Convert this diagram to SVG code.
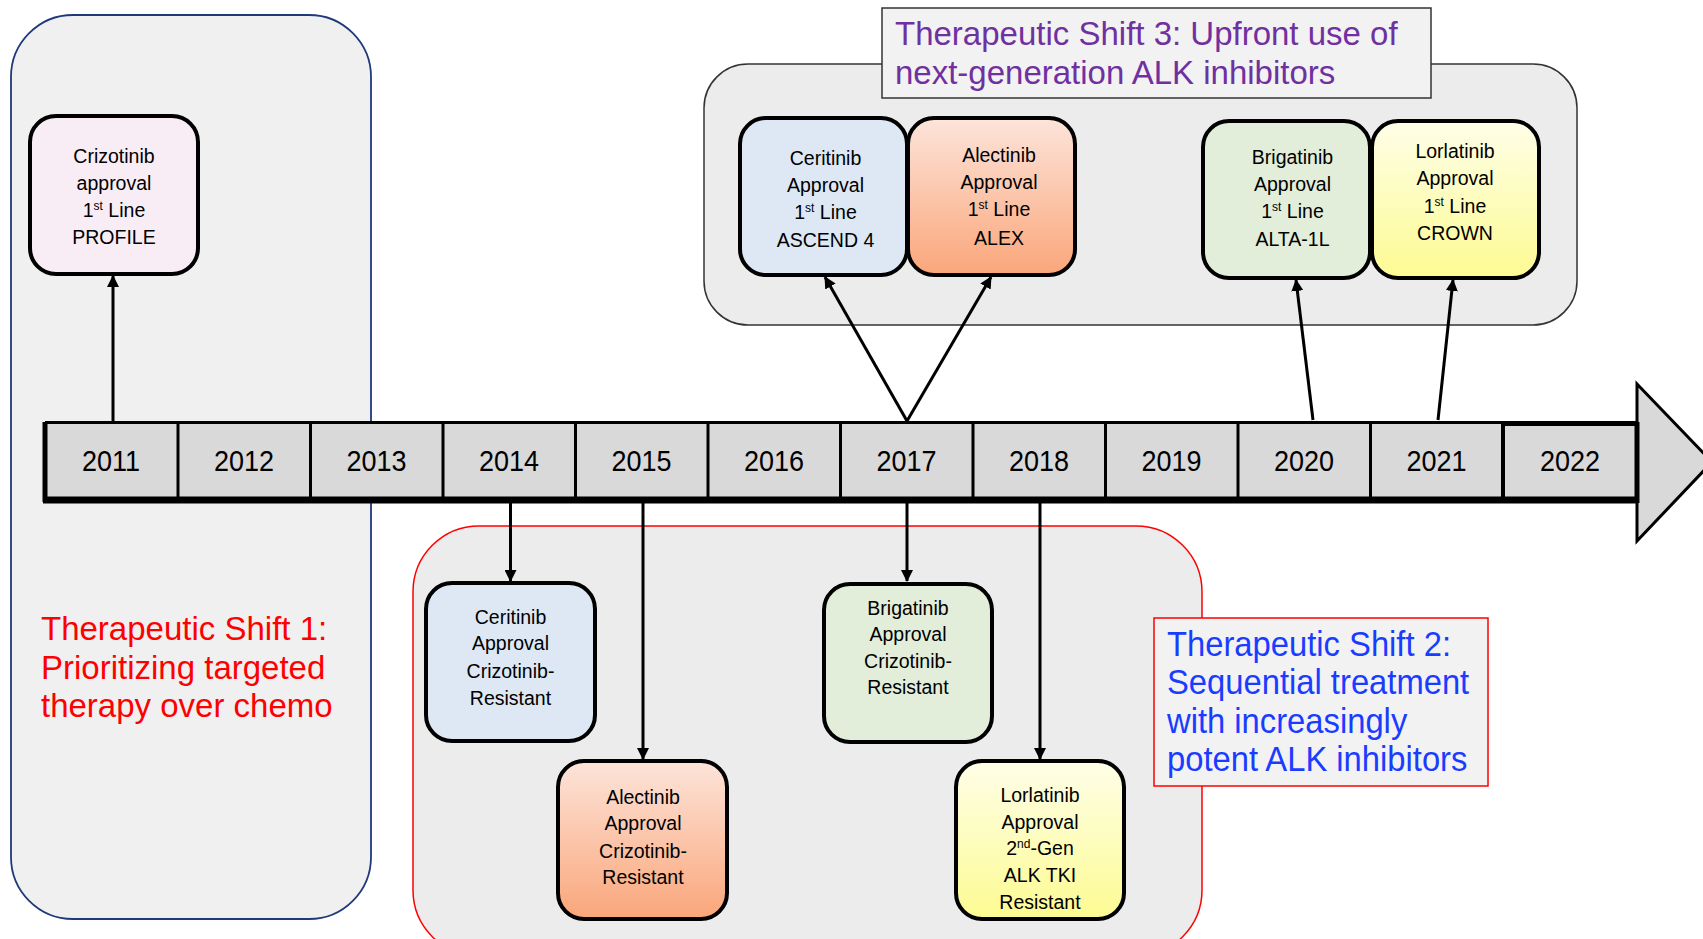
<svg xmlns="http://www.w3.org/2000/svg" width="1703" height="939" viewBox="0 0 1703 939">
<style>
.node{stroke:#000;stroke-width:4}
.nt{font-family:"Liberation Sans",Arial,sans-serif;font-size:19.5px;fill:#000;text-anchor:middle}
.sup{font-size:12px}
.yr{font-family:"Liberation Sans",Arial,sans-serif;font-size:30px;fill:#000;text-anchor:middle}
.title{font-family:"Liberation Sans",Arial,sans-serif;font-size:33px}
.conn{stroke:#000;stroke-width:3;fill:none;marker-end:url(#ah)}
</style>
<defs>
<marker id="ah" markerUnits="userSpaceOnUse" markerWidth="12" markerHeight="12" refX="11" refY="6" orient="auto">
<path d="M0,0 L12,6 L0,12 z" fill="#000"/>
</marker>
<linearGradient id="gOrange" x1="0" y1="0" x2="0" y2="1">
<stop offset="0" stop-color="#fde4da"/>
<stop offset="1" stop-color="#faa67a"/>
</linearGradient>
<linearGradient id="gYellow" x1="0" y1="0" x2="0" y2="1">
<stop offset="0" stop-color="#fefee8"/>
<stop offset="1" stop-color="#fdfb92"/>
</linearGradient>
</defs>

<g id="panel-shift1">
<rect x="11" y="15" width="360" height="904" rx="62" ry="62" fill="#f0f0f0" stroke="#1f3a7a" stroke-width="1.8"/>
<text class="title" fill="#ff0000" x="41"><tspan x="41" y="640">Therapeutic Shift 1:</tspan><tspan x="41" y="679">Prioritizing targeted</tspan><tspan x="41" y="717">therapy over chemo</tspan></text>
</g>

<g id="panel-shift3">
<rect x="704" y="64" width="873" height="261" rx="44" ry="44" fill="#ececec" stroke="#333" stroke-width="1.5"/>
<rect x="882" y="8" width="549" height="90" fill="#f2f2f2" stroke="#333" stroke-width="1.5"/>
<text class="title" fill="#7030a0"><tspan x="895" y="45">Therapeutic Shift 3: Upfront use of</tspan><tspan x="895" y="84">next-generation ALK inhibitors</tspan></text>
</g>

<g id="panel-shift2">
<rect x="413" y="526" width="789" height="430" rx="66" ry="66" fill="#ececec" stroke="#ff0000" stroke-width="1.5"/>
<rect x="1154" y="618" width="334" height="168" fill="#f2f2f2" stroke="#ff0000" stroke-width="1.5"/>
<text class="title" fill="#1a3cff" style="font-size:36px" transform="translate(1167,0) scale(0.91,1)"><tspan x="0" y="656">Therapeutic Shift 2:</tspan><tspan x="0" y="694">Sequential treatment</tspan><tspan x="0" y="733">with increasingly</tspan><tspan x="0" y="771">potent ALK inhibitors</tspan></text>
</g>

<g id="timeline">
<polygon points="1637,384 1712,462 1637,541" fill="#d9d9d9" stroke="#000" stroke-width="3" stroke-linejoin="miter"/>
<rect x="45" y="422" width="1592" height="78" fill="#d9d9d9"/>
<line x1="43" y1="500" x2="1638" y2="500" stroke="#000" stroke-width="7"/>
<line x1="45" y1="422" x2="45" y2="502" stroke="#000" stroke-width="5"/>
<line x1="45" y1="422.5" x2="1637" y2="422.5" stroke="#000" stroke-width="3"/>
<line x1="1637" y1="422" x2="1637" y2="503" stroke="#000" stroke-width="5"/>
<g stroke="#000" stroke-width="3">
<line x1="178" y1="422" x2="178" y2="500"/>
<line x1="310.5" y1="422" x2="310.5" y2="500"/>
<line x1="443" y1="422" x2="443" y2="500"/>
<line x1="575.5" y1="422" x2="575.5" y2="500"/>
<line x1="708" y1="422" x2="708" y2="500"/>
<line x1="840.5" y1="422" x2="840.5" y2="500"/>
<line x1="973" y1="422" x2="973" y2="500"/>
<line x1="1105.5" y1="422" x2="1105.5" y2="500"/>
<line x1="1238" y1="422" x2="1238" y2="500"/>
<line x1="1370.5" y1="422" x2="1370.5" y2="500"/>
<line x1="1503" y1="422" x2="1503" y2="500" stroke-width="4"/>
</g>
<line x1="1503" y1="423.5" x2="1637" y2="423.5" stroke="#000" stroke-width="5"/>
<g transform="scale(0.9,1)">
<text class="yr" x="123.3" y="471">2011</text>
<text class="yr" x="271.1" y="471">2012</text>
<text class="yr" x="418.3" y="471">2013</text>
<text class="yr" x="565.6" y="471">2014</text>
<text class="yr" x="712.8" y="471">2015</text>
<text class="yr" x="860" y="471">2016</text>
<text class="yr" x="1007.2" y="471">2017</text>
<text class="yr" x="1154.4" y="471">2018</text>
<text class="yr" x="1301.7" y="471">2019</text>
<text class="yr" x="1448.9" y="471">2020</text>
<text class="yr" x="1596.1" y="471">2021</text>
<text class="yr" x="1744.4" y="471">2022</text>
</g>
</g>

<g id="connectors">
<line class="conn" x1="113" y1="421" x2="113" y2="276"/>
<line class="conn" x1="907" y1="421" x2="825" y2="277"/>
<line class="conn" x1="907" y1="421" x2="991" y2="277"/>
<line class="conn" x1="1313" y1="420" x2="1296" y2="280"/>
<line class="conn" x1="1438" y1="420" x2="1453" y2="280"/>
<line class="conn" x1="510.5" y1="503" x2="510.5" y2="581"/>
<line class="conn" x1="643" y1="503" x2="643" y2="759"/>
<line class="conn" x1="907" y1="503" x2="907" y2="581"/>
<line class="conn" x1="1040" y1="503" x2="1040" y2="759"/>
</g>

<g id="n-crizotinib">
<rect class="node" x="30" y="116" width="168" height="158" rx="26" fill="#f9edf5"/>
<text class="nt"><tspan x="114" y="163">Crizotinib</tspan><tspan x="114" y="190">approval</tspan><tspan x="114" y="217">1<tspan class="sup" baseline-shift="super">st</tspan> Line</tspan><tspan x="114" y="244">PROFILE</tspan></text>
</g>

<g id="n-ceritinib-1l">
<rect class="node" x="740" y="118" width="167" height="157" rx="26" fill="#dde8f4"/>
<text class="nt"><tspan x="825.5" y="165">Ceritinib</tspan><tspan x="825.5" y="192">Approval</tspan><tspan x="825.5" y="219">1<tspan class="sup" baseline-shift="super">st</tspan> Line</tspan><tspan x="825.5" y="247">ASCEND 4</tspan></text>
</g>

<g id="n-alectinib-1l">
<rect class="node" x="908" y="118" width="167" height="157" rx="26" fill="url(#gOrange)"/>
<text class="nt"><tspan x="999" y="162">Alectinib</tspan><tspan x="999" y="189">Approval</tspan><tspan x="999" y="216">1<tspan class="sup" baseline-shift="super">st</tspan> Line</tspan><tspan x="999" y="245">ALEX</tspan></text>
</g>

<g id="n-brigatinib-1l">
<rect class="node" x="1203" y="121" width="167" height="157" rx="26" fill="#e2eed9"/>
<text class="nt"><tspan x="1292.5" y="164">Brigatinib</tspan><tspan x="1292.5" y="191">Approval</tspan><tspan x="1292.5" y="218">1<tspan class="sup" baseline-shift="super">st</tspan> Line</tspan><tspan x="1292.5" y="246">ALTA-1L</tspan></text>
</g>

<g id="n-lorlatinib-1l">
<rect class="node" x="1372" y="121" width="167" height="157" rx="26" fill="url(#gYellow)"/>
<text class="nt"><tspan x="1455" y="158">Lorlatinib</tspan><tspan x="1455" y="185">Approval</tspan><tspan x="1455" y="213">1<tspan class="sup" baseline-shift="super">st</tspan> Line</tspan><tspan x="1455" y="240">CROWN</tspan></text>
</g>

<g id="n-ceritinib-cr">
<rect class="node" x="426" y="583" width="169" height="158" rx="26" fill="#dde8f4"/>
<text class="nt"><tspan x="510.5" y="624">Ceritinib</tspan><tspan x="510.5" y="650">Approval</tspan><tspan x="510.5" y="678">Crizotinib-</tspan><tspan x="510.5" y="705">Resistant</tspan></text>
</g>

<g id="n-alectinib-cr">
<rect class="node" x="558" y="761" width="169" height="158" rx="26" fill="url(#gOrange)"/>
<text class="nt"><tspan x="643" y="804">Alectinib</tspan><tspan x="643" y="830">Approval</tspan><tspan x="643" y="858">Crizotinib-</tspan><tspan x="643" y="884">Resistant</tspan></text>
</g>

<g id="n-brigatinib-cr">
<rect class="node" x="824" y="584" width="168" height="158" rx="26" fill="#e2eed9"/>
<text class="nt"><tspan x="908" y="615">Brigatinib</tspan><tspan x="908" y="641">Approval</tspan><tspan x="908" y="668">Crizotinib-</tspan><tspan x="908" y="694">Resistant</tspan></text>
</g>

<g id="n-lorlatinib-cr">
<rect class="node" x="956" y="761" width="168" height="158" rx="26" fill="url(#gYellow)"/>
<text class="nt"><tspan x="1040" y="802">Lorlatinib</tspan><tspan x="1040" y="829">Approval</tspan><tspan x="1040" y="855">2<tspan class="sup" baseline-shift="super">nd</tspan>-Gen</tspan><tspan x="1040" y="882">ALK TKI</tspan><tspan x="1040" y="909">Resistant</tspan></text>
</g>
</svg>
